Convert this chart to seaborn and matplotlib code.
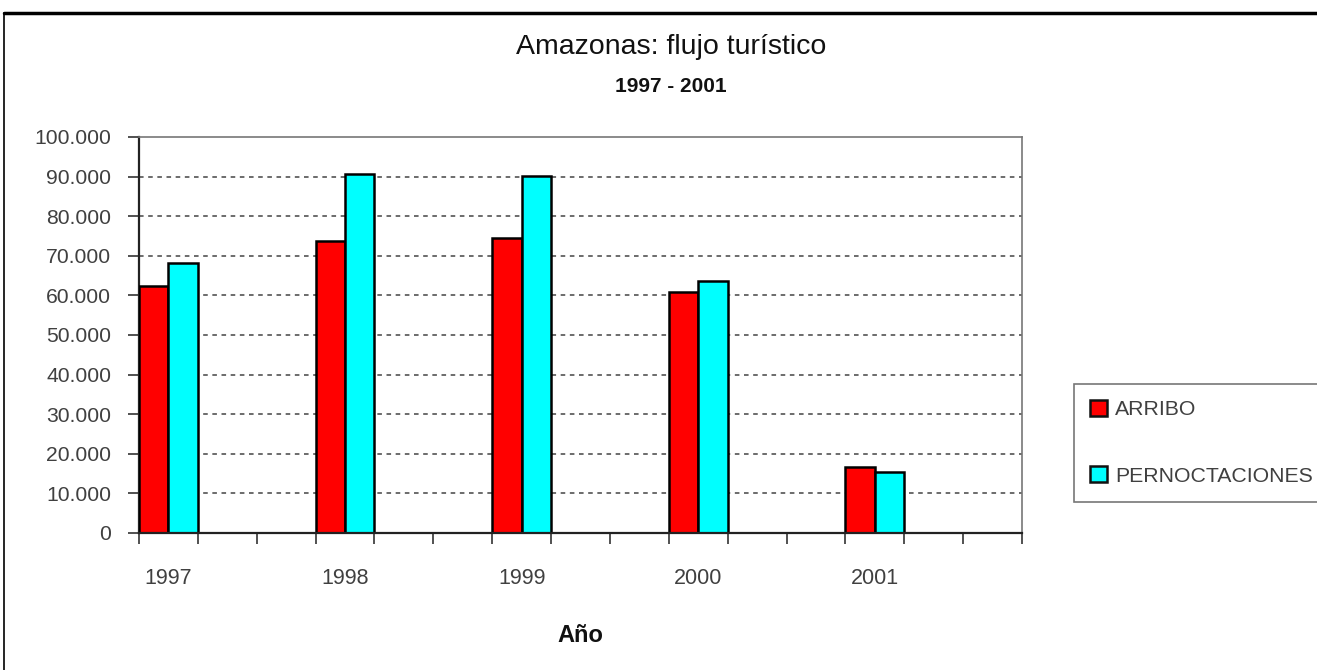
import matplotlib
matplotlib.use('Agg')
import matplotlib.pyplot as plt
import seaborn as sns
import pandas as pd
import numpy as np
from matplotlib.patches import Patch
from matplotlib.lines import Line2D
from matplotlib.ticker import FuncFormatter

# Excel category axis: 15 slots, only every third one holds data
categories = ['1997', '', '', '1998', '', '', '1999', '', '', '2000', '', '', '2001', '', '']
years = ['1997', '1998', '1999', '2000', '2001']
arribo = [62500, 73700, 74600, 60800, 16600]
pernoctaciones = [68100, 90600, 90200, 63600, 15500]
series = ['ARRIBO', 'PERNOCTACIONES']
colors = ['#FF0000', '#00FFFF']
yticks = [0, 10000, 20000, 30000, 40000, 50000, 60000, 70000, 80000, 90000, 100000]

slot_of = {c: i for i, c in enumerate(categories) if c}
rows = []
for y, a, p in zip(years, arribo, pernoctaciones):
    rows.append({'slot': slot_of[y], 'serie': series[0], 'valor': a})
    rows.append({'slot': slot_of[y], 'serie': series[1], 'valor': p})
df = pd.DataFrame(rows)

sns.set_style('white')
plt.rcParams['font.family'] = ['Liberation Sans', 'DejaVu Sans']

fig = plt.figure(figsize=(13.17, 6.70), dpi=100)
ax = fig.add_axes([139/1317, 1-533/670, (1022-139)/1317, (533-137)/670])

sns.barplot(data=df, x='slot', y='valor', hue='serie', hue_order=series,
            palette=colors, native_scale=True, width=1/3, dodge=True,
            edgecolor='black', linewidth=1.8, saturation=1, errorbar=None,
            legend=False, ax=ax, zorder=3)

n = len(categories)
ax.set_xlim(-0.5, n - 0.5)
ax.set_ylim(yticks[0], yticks[-1])

# x axis
ax.set_xticks([slot_of[y] for y in years])
ax.set_xticklabels(years)
ax.set_xticks(np.arange(n + 1) - 0.5, minor=True)
ax.tick_params(axis='x', which='major', length=0, pad=25, labelsize=15.5, labelcolor='#404040')
ax.tick_params(axis='x', which='minor', length=8, width=1.2, direction='out', color='#333333', bottom=True)

# y axis
ax.set_yticks(yticks)
ax.yaxis.set_major_formatter(FuncFormatter(lambda v, _: f'{int(v):,}'.replace(',', '.')))
ax.tick_params(axis='y', length=8, width=1.2, direction='out', pad=12, labelsize=15.2,
               labelcolor='#404040', color='#333333', left=True)

ax.set_xlabel('')
ax.set_ylabel('')

# gridlines
for v in yticks[1:-1]:
    ax.axhline(v, color='#444444', linestyle=(0, (3, 3)), linewidth=1.1, zorder=1)

for s in ['left', 'bottom']:
    ax.spines[s].set_color('#222222')
    ax.spines[s].set_linewidth(1.6)
for s in ['top', 'right']:
    ax.spines[s].set_color('#777777')
    ax.spines[s].set_linewidth(1.2)
ax.spines['bottom'].set_zorder(4)

# titles
fig.text(671/1317, 1-47/670, 'Amazonas: flujo turístico', ha='center', va='center',
         fontsize=20.5, color='#111111')
fig.text(671/1317, 1-86/670, '1997 - 2001', ha='center', va='center',
         fontsize=15, fontweight='bold', color='#111111')
fig.text(580/1317, 1-635/670, 'Año', ha='center', va='center',
         fontsize=17, fontweight='bold', color='#111111')

# legend
handles = [Patch(facecolor=c, edgecolor='#111111', linewidth=1.8) for c in colors]
leg = fig.legend(handles, series, loc='upper left', bbox_to_anchor=(1074/1317, 1-384/670),
                 frameon=True, fancybox=False, fontsize=15.3, handlelength=0.8, handleheight=0.8,
                 handletextpad=0.4, labelspacing=2.2, borderpad=0.75, borderaxespad=0)
leg.get_frame().set_edgecolor('#555555')
leg.get_frame().set_linewidth(1.2)
for t in leg.get_texts():
    t.set_color('#404040')

# outer frame
fig.add_artist(Line2D([4/1317, 1], [1-13/670, 1-13/670], color='black', linewidth=2.5, transform=fig.transFigure))
fig.add_artist(Line2D([4/1317, 4/1317], [0, 1-13/670], color='black', linewidth=1.2, transform=fig.transFigure))

fig.savefig('out.png', dpi=100)
